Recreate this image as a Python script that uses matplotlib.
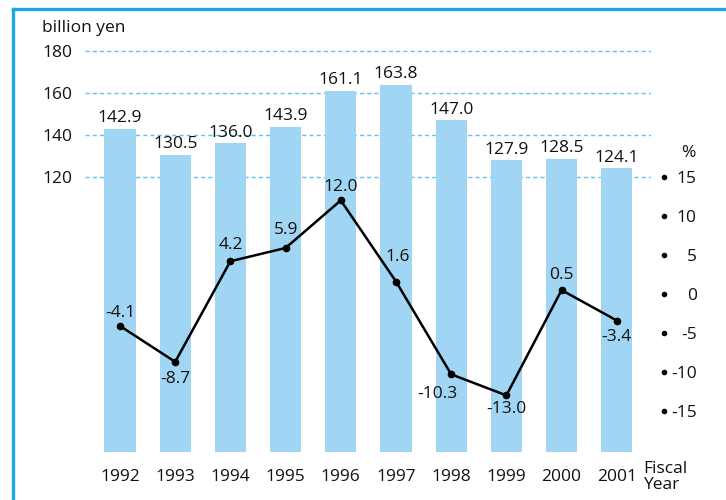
import matplotlib
matplotlib.use("Agg")
import matplotlib.pyplot as plt
from matplotlib.lines import Line2D
import matplotlib.transforms as mtransforms

plt.rcParams['font.family'] = ['Open Sans', 'DejaVu Sans']

years = ["1992", "1993", "1994", "1995", "1996", "1997", "1998", "1999", "2000", "2001"]
amounts = [142.9, 130.5, 136.0, 143.9, 161.1, 163.8, 147.0, 127.9, 128.5, 124.1]
growth = [-4.1, -8.7, 4.2, 5.9, 12.0, 1.6, -10.3, -13.0, 0.5, -3.4]
left_ticks = [120, 140, 160, 180]
right_ticks = [15, 10, 5, 0, -5, -10, -15]

# label offsets for growth values (points)
growth_offsets = [(0, 9), (0, -12), (0, 12), (0, 13), (0, 10), (1, 18), (-10, -14), (0, -10), (0, 11), (0, -12)]

W, H = 726, 500
fig = plt.figure(figsize=(W / 100, H / 100), dpi=100)
ax = fig.add_axes([85 / W, 48 / H, 566 / W, 422 / H])

bar_color = "#a0d6f3"
grid_color = "#5fc4ef"
fs = 12.5

x = list(range(len(years)))
bottom = -10.95
ax.set_ylim(bottom, 190)
ax.set_xlim(-0.634, 9.62)

for t in left_ticks:
    ax.axhline(t, color=grid_color, lw=1.0, ls=(0, (3, 2.2)), zorder=0)

heights = [a - bottom for a in amounts]
ax.bar(x, heights, bottom=bottom, width=0.565, color=bar_color, zorder=1)
for xi, a in zip(x, amounts):
    ax.annotate(f"{a:.1f}", (xi, a), xytext=(0, 2), textcoords="offset points",
                ha="center", va="bottom", fontsize=fs, color="#111111")

ax.set_yticks(left_ticks)
ax.set_yticklabels([str(t) for t in left_ticks], fontsize=fs, color="#111111")
ax.tick_params(axis="y", length=0, pad=9.4)
ax.set_xticks(x)
ax.set_xticklabels(years, fontsize=fs, color="#111111")
ax.tick_params(axis="x", length=0, pad=12)
for s in ax.spines.values():
    s.set_visible(False)

ax2 = ax.twinx()
ax2.set_ylim(-20.26, 33.85)
ax2.plot(x, growth, color="black", lw=1.8, marker="o", ms=4.5, zorder=3)
for xi, g, (dx, dy) in zip(x, growth, growth_offsets):
    ax2.annotate(f"{g:.1f}", (xi, g), xytext=(dx, dy), textcoords="offset points",
                 ha="center", va="center", fontsize=fs, color="#111111")
ax2.set_yticks(right_ticks)
ax2.set_yticklabels([str(t) for t in right_ticks], fontsize=fs, color="#111111")
ax2.tick_params(axis="y", length=0, pad=33)
for lab in ax2.get_yticklabels():
    lab.set_horizontalalignment("right")
for s in ax2.spines.values():
    s.set_visible(False)
trans = mtransforms.blended_transform_factory(ax2.transAxes, ax2.transData)
ax2.plot([(664 - 85) / 566] * len(right_ticks), right_ticks, "o", color="black",
         ms=3, transform=trans, clip_on=False)

fig.text(42 / W, 1 - 28 / H, "billion yen", fontsize=fs, ha="left", va="center", color="#111111")
fig.text(688 / W, 1 - 153 / H, "%", fontsize=fs, ha="center", va="center", color="#111111")
fig.text(643 / W, 1 - 477 / H, "Fiscal\nYear", fontsize=fs, ha="left", va="center",
         color="#111111", linespacing=0.95)

border = "#1aa9e2"
fig.add_artist(Line2D([12.5 / W, 12.5 / W], [0, 1 - 9 / H], color=border, lw=2.4, transform=fig.transFigure))
fig.add_artist(Line2D([12.5 / W, 1], [1 - 9 / H, 1 - 9 / H], color=border, lw=2.4, transform=fig.transFigure))

fig.savefig("out.png", dpi=100)
